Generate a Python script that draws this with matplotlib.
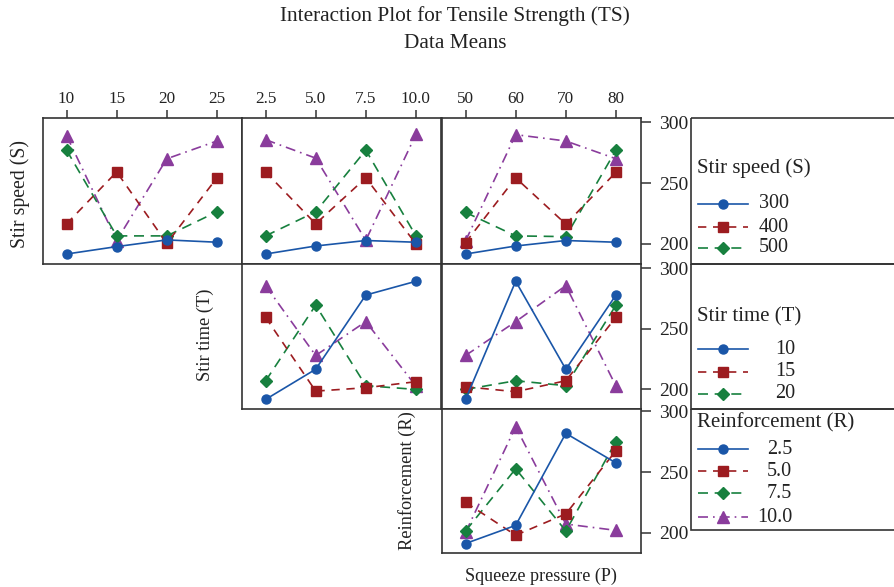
import matplotlib
matplotlib.use("Agg")
import matplotlib.pyplot as plt
from matplotlib.lines import Line2D
from matplotlib.patches import Rectangle

plt.rcParams['font.family'] = ['Liberation Serif', 'DejaVu Serif']

# ---------------- data ----------------
title_lines = ["Interaction Plot for Tensile Strength (TS)", "Data Means"]
speed_legend = ["300", "400", "500"]
time_legend = ["10", "15", "20"]
reinf_legend = ["2.5", "5.0", "7.5", "10.0"]

time_levels = ["10", "15", "20", "25"]
reinf_levels = ["2.5", "5.0", "7.5", "10.0"]
press_levels = ["50", "60", "70", "80"]

factor_names = ["Stir speed (S)", "Stir time (T)", "Reinforcement (R)", "Squeeze pressure (P)"]

# rows: series (levels of the row factor); columns: x levels
S_by_T = [[191.7, 197.8, 203.3, 201.4],
          [216.5, 259.2, 200.5, 254.3],
          [277.1, 206.6, 206.6, 226.4],
          [289.0, 202.8, 270.0, 284.6]]
S_by_R = [[191.7, 198.3, 202.8, 201.4],
          [259.2, 216.5, 254.3, 200.0],
          [206.6, 226.4, 277.1, 206.6],
          [285.7, 270.5, 203.0, 290.0]]
S_by_P = [[191.7, 198.3, 202.8, 201.4],
          [201.1, 254.3, 216.3, 258.9],
          [225.9, 206.6, 206.0, 277.1],
          [202.5, 289.8, 284.6, 270.0]]
T_by_R = [[191.4, 216.4, 277.8, 289.2],
          [259.4, 198.3, 201.1, 206.1],
          [206.7, 269.4, 202.8, 199.7],
          [285.6, 227.8, 255.8, 202.5]]
T_by_P = [[191.4, 289.2, 216.4, 277.8],
          [201.9, 197.8, 206.9, 259.4],
          [199.7, 206.9, 202.8, 269.4],
          [227.8, 255.8, 285.6, 202.5]]
R_by_P = [[191.3, 206.2, 281.8, 257.5],
          [225.1, 198.1, 215.6, 267.5],
          [201.6, 252.7, 201.6, 275.0],
          [200.5, 287.2, 207.3, 202.1]]

y_ticks = [200, 250, 300]

# ---------------- styles ----------------
colors = ["#1a56a8", "#9c1c20", "#17803e", "#8a3c9c"]
markers = ["o", "s", "D", "^"]
msizes = [6.5, 6.5, 6.6, 9.3]
lstyles = ["-", (0, (5, 4)), (0, (6, 4)), (0, (6, 3, 1, 3))]
text_col = "#222222"

W, H = 895, 587
fig = plt.figure(figsize=(W / 100, H / 100), dpi=100)

col_x = [43, 242, 442]
col_w = 199
row_y = [118, 264, 409]
row_h = [146, 145, 144]


def add_panel(r, c):
    x0 = col_x[c]
    y0 = row_y[r]
    h = row_h[r]
    return fig.add_axes([x0 / W, 1 - (y0 + h) / H, col_w / W, h / H])


panels = [
    (0, 0, S_by_T, time_levels),
    (0, 1, S_by_R, reinf_levels),
    (0, 2, S_by_P, press_levels),
    (1, 1, T_by_R, reinf_levels),
    (1, 2, T_by_P, press_levels),
    (2, 2, R_by_P, press_levels),
]

spine_col = "#333333"
for r, c, data, xl in panels:
    ax = add_panel(r, c)
    xs = list(range(len(xl)))
    for i, series in enumerate(data):
        ax.plot(xs, series, color=colors[i], ls=lstyles[i], lw=1.2,
                marker=markers[i], ms=msizes[i], mec=colors[i], mfc=colors[i],
                zorder=3 + (3 - i) * 0.1)
    ax.set_xlim(-0.47, 3.5)
    ax.set_ylim(183.5, 303.5 if r < 2 else 301.8)
    for s in ax.spines.values():
        s.set_color(spine_col)
        s.set_linewidth(1.2)
    ax.tick_params(axis='both', which='both', length=0, labelleft=False,
                   labelbottom=False, left=False, bottom=False)
    if r == 0:
        ax.xaxis.set_ticks_position('top')
        ax.set_xticks(xs)
        ax.set_xticklabels(xl)
        ax.tick_params(axis='x', top=True, labeltop=True, length=6,
                       direction='out', color=spine_col, width=1.1,
                       labelsize=12.3, labelcolor=text_col, pad=2)
    else:
        ax.set_xticks([])
    if c == 2:
        ax.yaxis.set_ticks_position('right')
        ax.set_yticks(y_ticks)
        ax.tick_params(axis='y', right=True, labelright=True, length=7,
                       direction='out', color=spine_col, width=1.1,
                       labelsize=14, labelcolor=text_col, pad=6)
    else:
        ax.set_yticks([])

# ---------------- overlay (text, legends) ----------------
ov = fig.add_axes([0, 0, 1, 1])
ov.set_xlim(0, W)
ov.set_ylim(H, 0)
ov.axis('off')

ov.text(455, 16, title_lines[0], ha='center', va='center', fontsize=15.3, color=text_col)
ov.text(455, 43, title_lines[1], ha='center', va='center', fontsize=15.3, color=text_col)

ov.text(20, 194, factor_names[0], rotation=90, ha='center', va='center', fontsize=14.2, color=text_col)
ov.text(205, 335, factor_names[1], rotation=90, ha='center', va='center', fontsize=13.2, color=text_col)
ov.text(407, 481, factor_names[2], rotation=90, ha='center', va='center', fontsize=13.2, color=text_col)
ov.text(541, 576, factor_names[3], ha='center', va='center', fontsize=13.1, color=text_col)

# legend boxes
boxes = [(118, 264), (264, 409), (409, 530)]
for top, bot in boxes:
    ov.add_patch(Rectangle((691, top), 300, bot - top, fill=False,
                           ec=spine_col, lw=1.2, clip_on=True))

legends = [
    (factor_names[0], 168, [204, 227, 248], speed_legend, 789),
    (factor_names[1], 317, [349, 372, 394], time_legend, 795),
    (factor_names[2], 423, [449, 471, 493, 517], reinf_legend, 792),
]
for title, ty, ys, labels, xr in legends:
    ov.text(697, ty, title, ha='left', va='center', fontsize=15, color=text_col)
    for i, (yy, lab) in enumerate(zip(ys, labels)):
        ov.add_line(Line2D([698, 748], [yy, yy], color=colors[i], ls=lstyles[i], lw=1.2))
        ov.add_line(Line2D([723], [yy], color=colors[i], marker=markers[i],
                           ms=msizes[i], mec=colors[i], mfc=colors[i], ls='none'))
        ov.text(xr, yy, lab, ha='right', va='center', fontsize=14.5, color=text_col)

fig.savefig("out.png", dpi=100)
